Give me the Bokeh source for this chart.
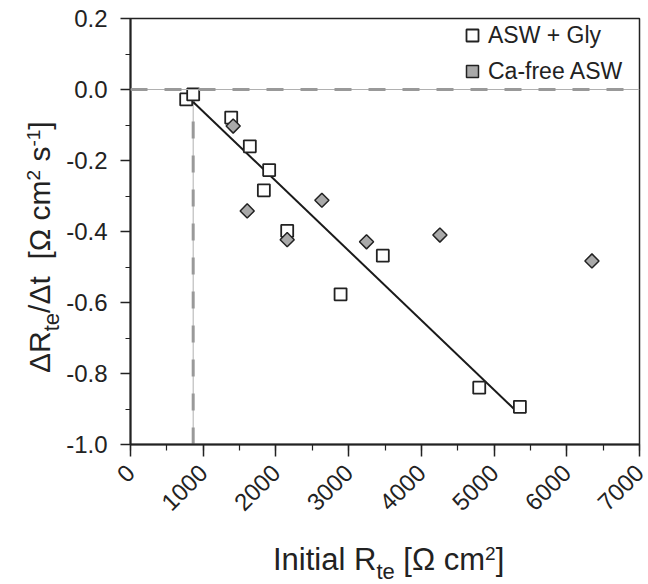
import math
from bokeh.plotting import figure
from bokeh.layouts import row, column
from bokeh.models import (Range1d, SingleIntervalTicker, NumeralTickFormatter, Span,
                          Legend, LegendItem, Div)
from bokeh.embed import file_html
from bokeh.resources import INLINE

# ---- data ----
asw_gly_x = [766, 862, 1385, 1641, 1907, 1834, 2155, 3470, 2889, 4796, 5355]
asw_gly_y = [-0.028, -0.014, -0.079, -0.160, -0.227, -0.284, -0.398, -0.468, -0.577, -0.840, -0.894]

ca_free_x = [1412, 1605, 2632, 2155, 3246, 4255, 6346]
ca_free_y = [-0.103, -0.342, -0.312, -0.423, -0.429, -0.410, -0.483]

fit_x = [862, 5296]
fit_y = [-0.035, -0.904]

threshold_x = [862, 862]
threshold_y = [-1.0, 0.0]
zero_level = 0.0

x_range = (0, 7000)
y_range = (-1.0, 0.2)

FONT = "Liberation Sans"
INK = "#222222"

p = figure(width=588, height=540, output_backend="svg", toolbar_location=None,
           x_range=Range1d(*x_range), y_range=Range1d(*y_range),
           min_border_left=70, min_border_top=18, min_border_right=9, min_border_bottom=96)
p.grid.visible = False
p.background_fill_color = "white"
p.border_fill_color = "white"
p.outline_line_color = INK
p.outline_line_width = 1.5

# axes
p.xaxis.ticker = SingleIntervalTicker(interval=1000, num_minor_ticks=2)
p.yaxis.ticker = SingleIntervalTicker(interval=0.2, num_minor_ticks=2)
p.yaxis.formatter = NumeralTickFormatter(format="0.0")
for ax in (p.xaxis, p.yaxis):
    ax.axis_line_color = INK
    ax.axis_line_width = 2
    ax.major_tick_line_color = INK
    ax.minor_tick_line_color = INK
    ax.major_tick_line_width = 1.5
    ax.minor_tick_line_width = 1.2
    ax.major_tick_in = 0
    ax.minor_tick_in = 0
    ax.major_label_text_font = FONT
    ax.major_label_text_font_size = "24px"
    ax.major_label_text_color = INK
p.xaxis.major_tick_out = 12
p.xaxis.minor_tick_out = 6
p.yaxis.major_tick_out = 10
p.yaxis.minor_tick_out = 5
p.xaxis.major_label_orientation = math.pi / 4
p.yaxis.major_label_standoff = 13
p.xaxis.major_label_standoff = 12

# reference lines
p.add_layout(Span(location=zero_level, dimension="width", line_color="#b0b0b0", line_width=1))
p.add_layout(Span(location=zero_level, dimension="width", line_color="#999999", line_width=3,
                  line_dash="17 17"))
p.line(threshold_x, threshold_y, line_color="#b0b0b0", line_width=1)
p.line(threshold_x, threshold_y, line_color="#999999", line_width=3, line_dash="17 17")

# fit line
p.line(fit_x, fit_y, line_color="#1a1a1a", line_width=2)

# markers
r1 = p.scatter(asw_gly_x, asw_gly_y, marker="square", size=12, fill_color="white",
               line_color=INK, line_width=1.8)
r2 = p.scatter(ca_free_x, ca_free_y, marker="square", angle=math.pi / 4, size=10,
               fill_color="#a9a9a9", line_color=INK, line_width=1.5)

legend = Legend(items=[LegendItem(label="ASW + Gly", renderers=[r1]),
                       LegendItem(label="Ca-free ASW", renderers=[r2])],
                location=(327, 358), padding=0, margin=0, spacing=6,
                glyph_width=30, glyph_height=30, label_standoff=1,
                label_text_font=FONT, label_text_font_size="23px", label_text_color=INK,
                border_line_color=None, background_fill_alpha=0)
p.add_layout(legend)

# axis titles as HTML text (sub/superscripts)
base = (f"font-family:'{FONT}'; font-size:31px; line-height:31px; color:{INK}; "
        "white-space:nowrap; position:absolute;")
base_y = (f"font-family:'{FONT}'; font-size:30px; line-height:30px; color:{INK}; "
          "white-space:nowrap; position:absolute;")
sub = "font-size:22px; position:relative; top:9px;"
sup = "font-size:19px; position:relative; top:-10px;"

x_title = (f'<div style="{base} left:213px; top:4px;">'
           f'Initial R<span style="{sub}">te</span> [&Omega; cm<span style="{sup}">2</span>]</div>')
y_title = (f'<div style="{base_y} left:25px; top:373px; transform-origin:0 0; '
           f'transform:rotate(-90deg);">'
           f'&Delta;R<span style="{sub}">te</span>/&Delta;t&nbsp; [&Omega; cm'
           f'<span style="{sup}">2</span> s<span style="{sup}">-1</span>]</div>')

xdiv = Div(text=x_title, width=588, height=44, margin=0)
ydiv = Div(text=y_title, width=60, height=584, margin=0)

layout = row(ydiv, column(p, xdiv, spacing=0), spacing=0)

open("out.html", "w").write(file_html(layout, INLINE))
